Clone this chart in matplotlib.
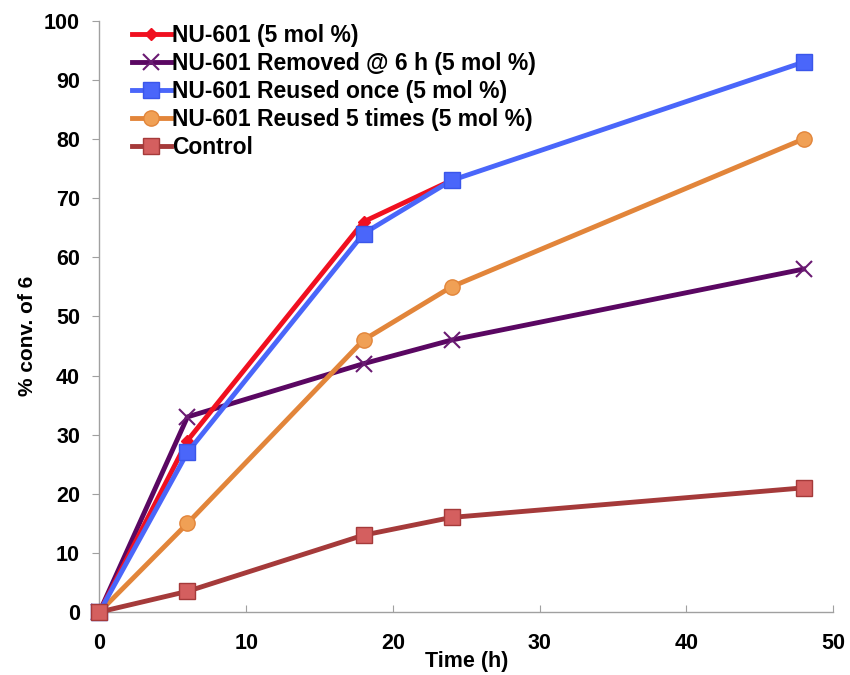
import matplotlib
matplotlib.use("Agg")
import matplotlib.pyplot as plt

plt.rcParams['font.family'] = ['Liberation Sans', 'DejaVu Sans']
plt.rcParams['font.weight'] = 'bold'

time_full = [0, 6, 18, 24, 48]
time_short = [0, 6, 18, 24]

nu601 = [0, 29, 66, 73]
removed_6h = [0, 33, 42, 46, 58]
reused_once = [0, 27, 64, 73, 93]
reused_5x = [0, 15, 46, 55, 80]
control = [0, 3.5, 13, 16, 21]

labels = [
    "NU-601 (5 mol %)",
    "NU-601 Removed @ 6 h (5 mol %)",
    "NU-601 Reused once (5 mol %)",
    "NU-601 Reused 5 times (5 mol %)",
    "Control",
]

fig = plt.figure(figsize=(8.5, 6.75), dpi=100)
ax = fig.add_axes([0.1170, 0.0933, 0.8630, 0.876])

lw = 3.5
ax.plot(time_short, nu601, color='#F01020', lw=lw, marker='D', ms=6,
        mfc='#F01020', mec='#F01020', label=labels[0], zorder=3, clip_on=False)
ax.plot(time_full, removed_6h, color='#5A0762', lw=lw, marker='x', ms=11,
        mew=1.5, mec='#6A1A72', label=labels[1], zorder=2, clip_on=False)
ax.plot(time_full, reused_once, color='#4A66FA', lw=lw, marker='s', ms=11,
        mfc='#4A66FA', mec='#3A56EA', label=labels[2], zorder=4, clip_on=False)
ax.plot(time_full, reused_5x, color='#E2853A', lw=lw, marker='o', ms=11,
        mfc='#F0A055', mec='#E2853A', label=labels[3], zorder=2, clip_on=False)
ax.plot(time_full, control, color='#A53A3A', lw=lw, marker='s', ms=11,
        mfc='#D45F5F', mec='#A53A3A', label=labels[4], zorder=5, clip_on=False)

ax.set_xlim(0, 50)
ax.set_ylim(0, 100)
ax.set_xticks(range(0, 51, 10))
ax.set_yticks(range(0, 101, 10))

for side in ('top', 'right'):
    ax.spines[side].set_visible(False)
for side in ('left', 'bottom'):
    ax.spines[side].set_color('#A0A0A0')
    ax.spines[side].set_linewidth(1.0)

ax.tick_params(axis='x', direction='in', length=5, color='#A0A0A0',
               labelsize=15.5, pad=15)
ax.tick_params(axis='y', direction='out', length=5, color='#A0A0A0',
               labelsize=15.5, pad=9)
for t in ax.get_xticklabels() + ax.get_yticklabels():
    t.set_fontweight('bold')

ax.set_xlabel("Time (h)", fontsize=15.5, fontweight='bold')
ax.set_ylabel("% conv. of 6", fontsize=15, fontweight='bold')
ax.xaxis.set_label_coords(0.5, -0.066)
ax.yaxis.set_label_coords(-0.085, 0.467)

leg = ax.legend(loc='upper left', bbox_to_anchor=(0.044, 0.994), frameon=False,
                fontsize=16.5, handlelength=1.7, handletextpad=0.05,
                labelspacing=0.22, borderaxespad=0.0, borderpad=0.0)
for t in leg.get_texts():
    t.set_fontweight('bold')

fig.savefig("out.png", dpi=100)
